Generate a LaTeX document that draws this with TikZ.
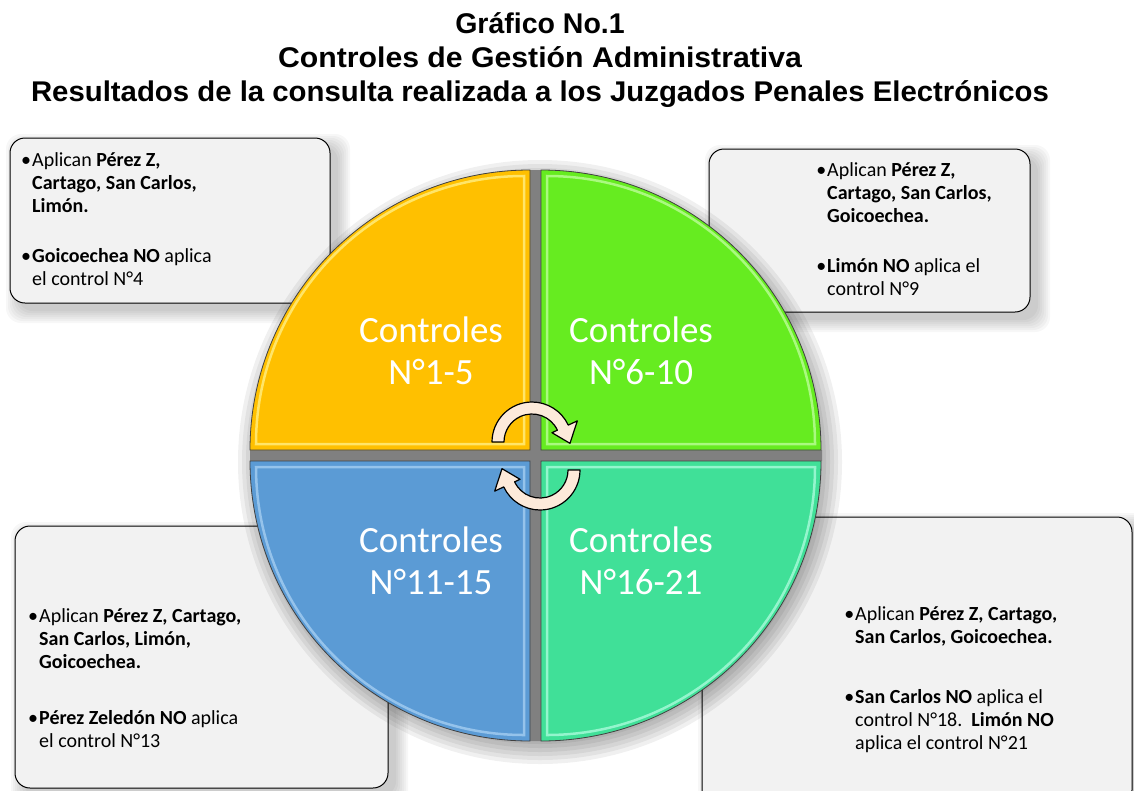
\documentclass[tikz,border=0pt]{standalone}
\usepackage{fontspec}
\usepackage{graphicx}
\setmainfont{Carlito}
\newfontfamily\titlefont{Liberation Sans}
\usetikzlibrary{calc}
\definecolor{qorange}{RGB}{255,192,0}
\definecolor{qgreen}{RGB}{102,236,32}
\definecolor{qblue}{RGB}{91,155,213}
\definecolor{qteal}{RGB}{64,224,152}
\definecolor{horange}{RGB}{255,246,150}
\definecolor{hgreen}{RGB}{200,255,170}
\definecolor{hblue}{RGB}{175,212,245}
\definecolor{hteal}{RGB}{185,255,228}
\definecolor{paper}{RGB}{242,242,242}
\definecolor{peach}{RGB}{253,234,218}
\newcommand{\pts}[1]{\begin{tabular}[t]{@{}l@{}}#1\end{tabular}}
\newcommand{\bul}{\llap{•\hspace{1pt}}}

\begin{document}
\begin{tikzpicture}[x=1pt,y=-1pt,
    box/.style={draw=black,fill=paper,line width=1pt,rounded corners=15},
    haze/.style={fill=black,opacity=.03,rounded corners=15},
    quad/.style={draw=black!75,line width=.8pt},
    shine/.style={line width=2.5pt,opacity=.7},
    lbl/.style={text=white,align=center,inner sep=0pt,font=\fontsize{37}{42}\selectfont},
    note/.style={anchor=base west,inner sep=0pt,font=\fontsize{20}{23.3}\selectfont},
    head/.style={anchor=base,inner sep=0pt,font=\titlefont\bfseries\fontsize{28.5}{33}\selectfont},
    turn/.style={fill=peach,draw=black,line width=1.2pt,line join=round},
]
\useasboundingbox (0,0) rectangle (1134,790);
\clip (0,0) rectangle (1134,790);

\node[head] (t1) at (540,33) {Gráfico No.1};
\node[head] (t2) at (540,67) {\scalebox{1.06}[1]{Controles de Gestión Administrativa}};
\node[head] (t3) at (540,101) {\scalebox{1.03}[1]{Resultados de la consulta realizada a los Juzgados Penales Electrónicos}};

\foreach \xa/\ya/\xb/\yb in {10/138/330/303, 709/149/1030/312, 15/526/388/788, 702/517/1132/805} {
    \foreach \s in {0,4,...,24}
        \fill[haze] (\xa+8-\s/2,\ya+8-\s/2) rectangle (\xb+8+\s/2,\yb+8+\s/2);
    \draw[box] (\xa,\ya) rectangle (\xb,\yb);
}

\node[note] (n1a) at (32,166) {\pts{\bul Aplican \textbf{Pérez Z,}\\\textbf{Cartago, San Carlos,}\\\textbf{Limón.}}};
\node[note] (n1b) at (32,262) {\pts{\bul\textbf{Goicoechea NO} aplica\\el control N°4}};
\node[note] (n2a) at (827,176) {\pts{\bul Aplican \textbf{Pérez Z,}\\\textbf{Cartago, San Carlos,}\\\textbf{Goicoechea.}}};
\node[note] (n2b) at (827,272) {\pts{\bul\textbf{Limón NO} aplica el\\control N°9}};
\node[note] (n3a) at (39,622) {\pts{\bul Aplican \textbf{Pérez Z, Cartago,}\\\textbf{San Carlos, Limón,}\\\textbf{Goicoechea.}}};
\node[note] (n3b) at (39,724) {\pts{\bul\textbf{Pérez Zeledón NO} aplica\\el control N°13}};
\node[note] (n4a) at (855,620) {\pts{\bul Aplican \textbf{Pérez Z, Cartago,}\\\textbf{San Carlos, Goicoechea.}}};
\node[note] (n4b) at (855,703) {\pts{\bul\textbf{San Carlos NO} aplica el\\control N°18.\ \ \textbf{Limón NO}\\aplica el control N°21}};

\foreach \r in {302,298,...,282}
    \fill[black,opacity=.06] (540,462) circle[radius=\r];
\fill[black!50] (250,450) rectangle (822,461) (530,170) rectangle (541,741);

\foreach \cx/\cy/\sa/\col/\hl/\ix/\iy in {530/450/180/qorange/horange/-6/-6, 541/450/270/qgreen/hgreen/6/-6,
        530/461/90/qblue/hblue/-6/6, 541/461/0/qteal/hteal/6/6} {
    \fill[\col] (\cx,\cy) -- ++(\sa:280) arc[start angle=\sa,delta angle=90,radius=280] -- cycle;
    \draw[shine,\hl] (\cx+\ix,\cy+\iy) -- ++(\sa:268) arc[start angle=\sa,delta angle=90,radius=268] -- cycle;
    \draw[quad] (\cx,\cy) -- ++(\sa:280) arc[start angle=\sa,delta angle=90,radius=280] -- cycle;
}

\node[lbl] (q1) at (431,351) {Controles\\N°1-5};
\node[lbl] (q2) at (641,351) {Controles\\N°6-10};
\node[lbl] (q3) at (431,561) {Controles\\N°11-15};
\node[lbl] (q4) at (641,561) {Controles\\N°16-21};

\coordinate (c1) at (532,442);
\coordinate (c2) at (540,470);
\foreach \c/\a in {c1/0,c2/180}
    \filldraw[turn] ($(\c)+(180+\a:40)$) arc[start angle=180+\a,delta angle=155,radius=40]
        -- ($(\c)+(335+\a:50)$) -- ($(\c)+(362+\a:38)$) -- ($(\c)+(335+\a:22)$)
        -- ($(\c)+(335+\a:28)$) arc[start angle=335+\a,delta angle=-155,radius=28] -- cycle;
\end{tikzpicture}
\end{document}
